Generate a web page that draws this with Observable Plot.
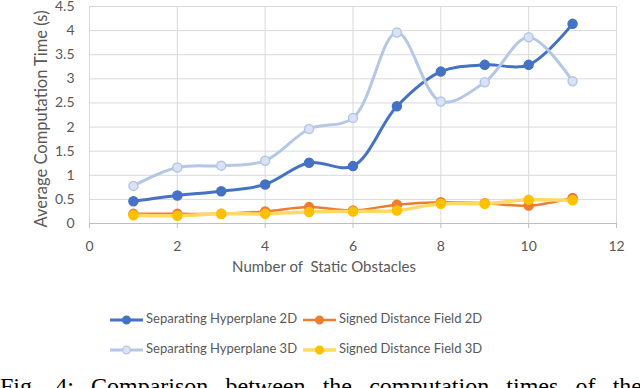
<!DOCTYPE html>
<html>
<head>
<meta charset="utf-8">
<script src="https://cdn.jsdelivr.net/npm/d3@7"></script>
<script src="https://cdn.jsdelivr.net/npm/@observablehq/plot@0.6"></script>
<style>
  html, body { margin: 0; padding: 0; background: #fff; overflow: hidden; width: 640px; height: 388px; }
  #wrap { position: relative; width: 640px; height: 388px; }
  #chart { position: absolute; left: 0; top: 0; }
  .leg { position: absolute; font-family: Lato, "Open Sans", sans-serif; font-size: 13px; color: #595959; white-space: nowrap; line-height: 16px; }
  .leg svg { vertical-align: middle; }
  .leg span { position: absolute; left: 36px; top: 0; }
  #caption { position: absolute; left: 0; top: 373px; width: 642px; font-family: "Liberation Serif", "DejaVu Serif", serif; font-size: 24px; color: #000; text-align: justify; text-align-last: justify; white-space: nowrap; }
</style>
</head>
<body>
<div id="wrap">
  <div id="chart"></div>
  <div id="legend"></div>
  <div id="caption"></div>
</div>
<script>
const xs = [1, 2, 3, 4, 5, 6, 7, 8, 9, 10, 11];
const sh2d = [0.46, 0.58, 0.67, 0.81, 1.26, 1.19, 2.43, 3.15, 3.29, 3.29, 4.14];
const sdf2d = [0.20, 0.20, 0.20, 0.25, 0.34, 0.27, 0.39, 0.44, 0.42, 0.37, 0.53];
const sh3d = [0.78, 1.16, 1.20, 1.30, 1.96, 2.19, 3.96, 2.53, 2.93, 3.86, 2.95];
const sdf3d = [0.17, 0.16, 0.20, 0.20, 0.24, 0.25, 0.27, 0.41, 0.41, 0.49, 0.48];
const seriesNames = ["Separating Hyperplane 2D", "Signed Distance Field 2D", "Separating Hyperplane 3D", "Signed Distance Field 3D"];
const xTicks = [0, 2, 4, 6, 8, 10, 12];
const yTicks = [0, 0.5, 1, 1.5, 2, 2.5, 3, 3.5, 4, 4.5];
const xLabel = "Number of  Static Obstacles";
const yLabel = "Average Computation Time (s)";
const captionText = "Fig. 4: Comparison between the computation times of the";

const styles = [
  {line: "#4472C4", width: 3, fill: "#4472C4", stroke: "#4472C4"},
  {line: "#ED7D31", width: 2.5, fill: "#ED7D31", stroke: "#ED7D31"},
  {line: "#B4C7E7", width: 3, fill: "#DAE3F3", stroke: "#B4C7E7"},
  {line: "#FFD966", width: 3.5, fill: "#FFC000", stroke: "#FFC000"}
];
const seriesVals = [sh2d, sdf2d, sh3d, sdf3d];
const rows = seriesVals.map(v => xs.map((x, i) => ({x, y: v[i]})));

const marks = [
  Plot.gridY(yTicks, {stroke: "#d9d9d9", strokeOpacity: 1}),
  Plot.gridX(xTicks, {stroke: "#d9d9d9", strokeOpacity: 1}),
  Plot.ruleY([0], {stroke: "#bfbfbf", strokeWidth: 1.2}),
  Plot.axisX(xTicks, {tickSize: 5, tickPadding: 13, stroke: "#bfbfbf", label: null, tickFormat: d => String(d)}),
  Plot.axisY(yTicks, {tickSize: 0, tickPadding: 15, label: null, tickFormat: d => String(d)})
];
rows.forEach((r, k) => {
  const s = styles[k];
  marks.push(Plot.line(r, {x: "x", y: "y", curve: "catmull-rom", stroke: s.line, strokeWidth: s.width}));
  marks.push(Plot.dot(r, {x: "x", y: "y", r: 4.5, fill: s.fill, stroke: s.stroke, strokeWidth: 1.5}));
});
marks.push(Plot.text([xLabel], {text: d => d, frameAnchor: "bottom", dx: -29, dy: 48, fontSize: 15}));
marks.push(Plot.text([yLabel], {text: d => d, frameAnchor: "left", textAnchor: "middle", lineAnchor: "middle", rotate: -90, dx: -48, dy: 4, fontSize: 16.5}));

const chart = Plot.plot({
  width: 640,
  height: 290,
  marginLeft: 89,
  marginRight: 24,
  marginTop: 6,
  marginBottom: 67,
  style: {fontFamily: "Lato, 'Open Sans', sans-serif", fontSize: "14px", color: "#595959", background: "white"},
  x: {domain: [0, 12]},
  y: {domain: [0, 4.5]},
  marks
});
document.getElementById("chart").appendChild(chart);

// Legend
const legPos = [[110, 310], [303, 310], [110, 340], [303, 340]];
const legend = document.getElementById("legend");
seriesNames.forEach((name, k) => {
  const s = styles[k];
  const d = document.createElement("div");
  d.className = "leg";
  d.style.left = legPos[k][0] + "px";
  d.style.top = legPos[k][1] + "px";
  d.innerHTML = `<svg width="34" height="16"><line x1="0" y1="8" x2="33" y2="8" stroke="${s.line}" stroke-width="${s.width}"/><circle cx="16.5" cy="8" r="3.8" fill="${s.fill}" stroke="${s.stroke}" stroke-width="1.3"/></svg><span>${name}</span>`;
  legend.appendChild(d);
});
document.getElementById("caption").textContent = captionText;
</script>
</body>
</html>
